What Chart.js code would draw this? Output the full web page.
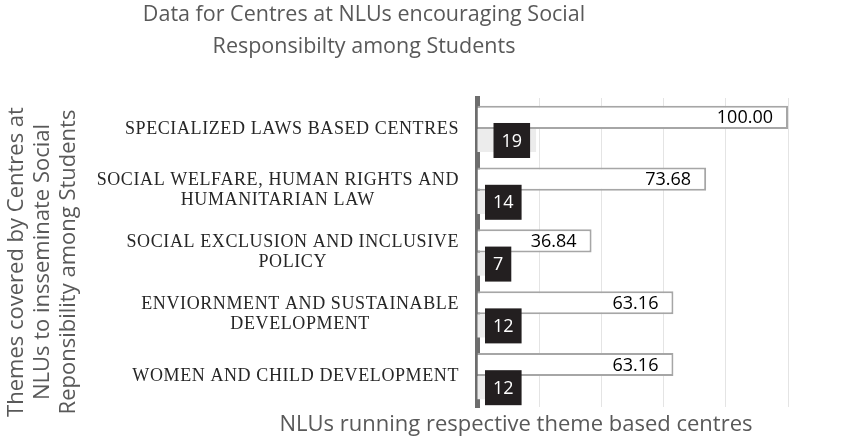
<!DOCTYPE html>
<html>
<head>
<meta charset="utf-8">
<script src="https://cdn.jsdelivr.net/npm/chart.js@4.4.1/dist/chart.umd.min.js"></script>
<style>
  html, body { margin: 0; padding: 0; background: #fff; }
  #wrap { width: 841px; height: 441px; }
</style>
</head>
<body>
<div id="wrap"><canvas id="myChart"></canvas></div>
<script>
// dados
const themes = [
  ['SPECIALIZED LAWS BASED CENTRES'],
  ['SOCIAL WELFARE, HUMAN RIGHTS AND', 'HUMANITARIAN LAW'],
  ['SOCIAL EXCLUSION AND INCLUSIVE', 'POLICY'],
  ['ENVIORNMENT AND SUSTAINABLE', 'DEVELOPMENT'],
  ['WOMEN AND CHILD DEVELOPMENT']
];
const percentValues = [100.00, 73.68, 36.84, 63.16, 63.16];
const centreCounts = [19, 14, 7, 12, 12];

const titleLines = ['Data for Centres at NLUs encouraging Social', 'Responsibilty among Students'];
const yTitleLines = ['Themes covered by Centres at', 'NLUs to insseminate Social', 'Reponsibility among Students'];
const xTitle = 'NLUs running respective theme based centres';

const sansFont = '"Open Sans", "Noto Sans", sans-serif';
const serifFont = '"Liberation Serif", "DejaVu Serif", serif';

// desenha rótulos, títulos e valores
const labelsPlugin = {
  id: 'labelsPlugin',
  afterDatasetsDraw(chart) {
    const ctx = chart.ctx;
    const area = chart.chartArea;
    const yScale = chart.scales.y;
    ctx.save();

    // valores percentuais (dentro da barra, no fim)
    ctx.font = '18px ' + sansFont;
    ctx.fillStyle = '#000';
    ctx.textAlign = 'right';
    ctx.textBaseline = 'middle';
    chart.getDatasetMeta(0).data.forEach((bar, i) => {
      ctx.fillText(percentValues[i].toFixed(2), bar.x - 15, bar.y + 1);
    });

    // contagens: caixa preta com texto branco
    chart.getDatasetMeta(1).data.forEach((bar, i) => {
      const txt = String(centreCounts[i]);
      const w = ctx.measureText(txt).width + 16;
      const h = 35;
      const left = Math.max(area.left + 8, bar.x - 6 - w);
      ctx.fillStyle = '#231f20';
      ctx.fillRect(left, bar.y - h / 2, w, h);
      ctx.fillStyle = '#fff';
      ctx.textAlign = 'center';
      ctx.fillText(txt, left + w / 2, bar.y + 1);
    });

    // categorias do eixo Y
    ctx.font = '18px ' + serifFont;
    ctx.letterSpacing = '0.6px';
    ctx.fillStyle = '#262626';
    ctx.textAlign = 'center';
    themes.forEach((lines, i) => {
      const yc = yScale.getPixelForTick(i);
      const widest = Math.max(...lines.map(l => ctx.measureText(l).width));
      const cx = area.left - 18 - widest / 2;
      const lh = 20;
      lines.forEach((l, j) => {
        ctx.fillText(l, cx, yc + (j - (lines.length - 1) / 2) * lh);
      });
    });
    ctx.letterSpacing = '0px';

    // título
    ctx.font = '21.5px ' + sansFont;
    ctx.fillStyle = '#595959';
    titleLines.forEach((l, j) => ctx.fillText(l, 364, 15 + j * 32));

    // título do eixo X
    ctx.font = '22px ' + sansFont;
    ctx.fillText(xTitle, 516, 425);

    // título do eixo Y (rotacionado)
    ctx.font = '22px ' + sansFont;
    ctx.translate(0, 262);
    ctx.rotate(-Math.PI / 2);
    yTitleLines.forEach((l, j) => ctx.fillText(l, 0, 17 + j * 26));
    ctx.restore();
  }
};

const ctx1 = document.getElementById('myChart').getContext('2d');
const myChart = new Chart(ctx1, {
  type: 'bar',
  data: {
    labels: themes,
    datasets: [{
      label: 'Percentage',
      data: percentValues,
      backgroundColor: '#ffffff',
      borderColor: '#a6a6a6',
      borderWidth: 2,
      borderSkipped: 'start'
    }, {
      label: 'NLUs',
      data: centreCounts,
      backgroundColor: '#ececec',
      borderWidth: 0
    }]
  },
  options: {
    indexAxis: 'y',
    responsive: true,
    maintainAspectRatio: false,
    animation: false,
    categoryPercentage: 0.75,
    barPercentage: 1,
    layout: {
      padding: { left: 477, right: 53, top: 98, bottom: 34 }
    },
    scales: {
      x: {
        min: 0,
        max: 100,
        ticks: { display: false, stepSize: 20 },
        grid: { color: '#e4e4e4', drawTicks: false },
        border: { display: false }
      },
      y: {
        ticks: { display: false },
        grid: { display: false, drawTicks: false },
        border: { display: true, color: '#6d6d6d', width: 5 }
      }
    },
    plugins: {
      legend: { display: false },
      tooltip: { enabled: false }
    }
  },
  plugins: [labelsPlugin]
});
</script>
</body>
</html>
